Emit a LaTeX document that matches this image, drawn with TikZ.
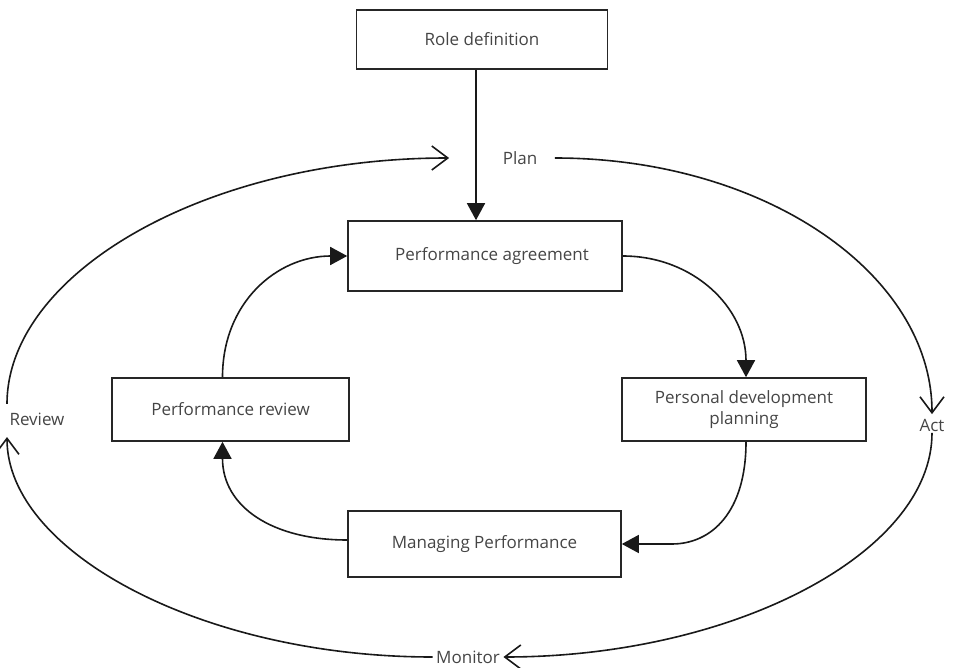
\documentclass[tikz,border=0pt]{standalone}
\usepackage{fontspec}
\setmainfont{Open Sans}
\usetikzlibrary{arrows.meta}
\definecolor{txt}{HTML}{454545}
\tikzset{
  box/.style={draw=black!85, line width=1.6pt, minimum height=#1, inner sep=0pt, font=\fontsize{17}{21}\selectfont, text=txt, align=center},
  lbl/.style={inner sep=1.5pt, font=\fontsize{17}{21}\selectfont, text=txt},
  inner/.style={line width=1.6pt, draw=black!90, -{Triangle[length=17pt,width=18pt]}},
  outer/.style={line width=1.6pt, draw=black!90, -{Straight Barb[length=16pt,width=24pt,line width=1.6pt]}},
}
\begin{document}
\begin{tikzpicture}[x=1pt,y=-1pt]
\useasboundingbox (0,0) rectangle (955,668);
% boxes
\node[box=59pt, minimum width=251pt] (rd) at (482,39.5) {Role definition};
\node[box=70pt, minimum width=274pt] (pa) at (485,256) {\hspace*{14pt}Performance agreement};
\node[box=63pt, minimum width=244pt] (pdp) at (744,409.5) {Personal development\\planning};
\node[box=63pt, minimum width=237pt] (pr) at (230.5,409.5) {Performance review};
\node[box=66pt, minimum width=273pt] (mp) at (484.5,544) {Managing Performance};
% labels
\node[lbl] (plan) at (520,158) {Plan};
\node[lbl] (act) at (932,425) {Act};
\node[lbl] (review) at (37,419) {Review};
\node[lbl] (monitor) at (468,657) {Monitor};
% inner cycle
\draw[inner] ([xshift=-6]rd.south) -- ([xshift=-9]pa.north);
\draw[inner] (pa.east) .. controls +(70,0) and +(0,-70) .. ([xshift=2]pdp.north);
\draw[inner] ([xshift=2]pdp.south) .. controls +(0,70) and +(40,0) .. ([xshift=50]mp.east) -- (mp.east);
\draw[inner] ([yshift=4]mp.west) .. controls +(-75,0) and +(0,65) .. ([xshift=-8]pr.south);
\draw[inner] ([xshift=-8]pr.north) .. controls +(0,-75) and +(-70,0) .. (pa.west);
% outer cycle
\draw[outer] ([xshift=16]plan.east) .. controls +(210,0) and +(0,-140) .. ([yshift=3]act.north);
\draw[outer] (act.south) .. controls +(0,120) and +(230,0) .. ([xshift=2]monitor.east);
\draw[outer] ([xshift=-2]monitor.west) .. controls +(-230,0) and +(0,115) .. ([xshift=-30,yshift=-10]review.south);
\draw[outer] ([xshift=-30,yshift=7]review.north) .. controls +(0,-130) and +(-245,0) .. ([xshift=-52]plan.west);
\end{tikzpicture}
\end{document}
